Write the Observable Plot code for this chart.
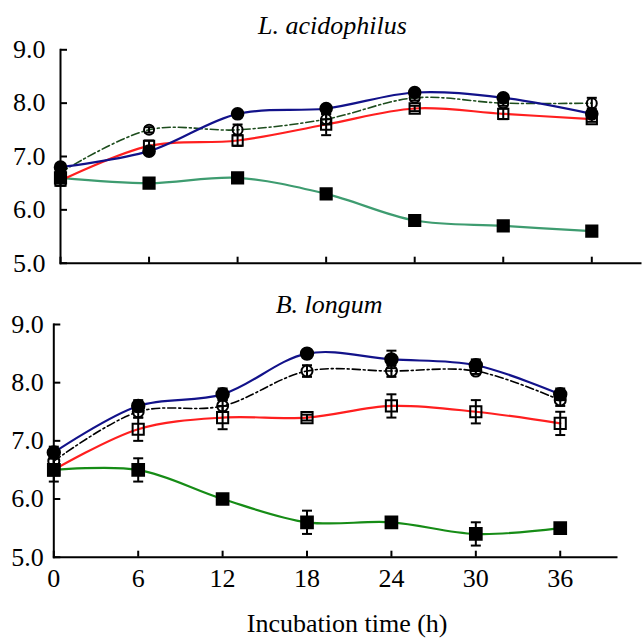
<!DOCTYPE html>
<html><head><meta charset="utf-8">
<script src="https://cdn.jsdelivr.net/npm/d3@7"></script>
<script src="https://cdn.jsdelivr.net/npm/@observablehq/plot@0.6"></script>
<style>
body{margin:0;background:#fff;}
#chart{width:642px;font-family:"Liberation Serif","Times New Roman",serif;}
#chart svg{display:block;}
#chart svg text{font-family:"Liberation Serif","Times New Roman",serif;}
</style></head><body><div id="chart"></div>
<script>
// ---- data ----
const hours = [0, 6, 12, 18, 24, 30, 36];
const yTicks = [5, 6, 7, 8, 9];
const titleTop = "L. acidophilus";
const titleBottom = "B. longum";
const xLabel = "Incubation time (h)";
const FONT = "Liberation Serif, Times New Roman, serif";

// L. acidophilus
const laBlue = [6.8, 7.1, 7.8, 7.9, 8.2, 8.1, 7.8];
const laBlueErr = [0.05, 0.05, 0.05, 0.05, 0.05, 0.05, 0.05];
const laOpen = [6.7, 7.5, 7.5, 7.7, 8.1, 8.0, 8.0];
const laOpenErr = [0.05, 0.05, 0.1, 0.1, 0.05, 0.05, 0.1];
const laRed = [6.55, 7.2, 7.3, 7.6, 7.9, 7.8, 7.7];
const laRedErr = [0.1, 0.1, 0.1, 0.2, 0.05, 0.1, 0.05];
const laGreen = [6.6, 6.5, 6.6, 6.3, 5.8, 5.7, 5.6];
const laGreenErr = [0.05, 0.05, 0.05, 0.05, 0.05, 0.05, 0.05];

// B. longum
const blBlue = [6.8, 7.6, 7.8, 8.5, 8.4, 8.3, 7.8];
const blBlueErr = [0.1, 0.1, 0.1, 0.05, 0.15, 0.1, 0.1];
const blOpen = [6.65, 7.5, 7.6, 8.2, 8.2, 8.2, 7.7];
const blOpenErr = [0.05, 0.1, 0.1, 0.1, 0.1, 0.05, 0.1];
const blRed = [6.5, 7.2, 7.4, 7.4, 7.6, 7.5, 7.3];
const blRedErr = [0.05, 0.2, 0.2, 0.05, 0.2, 0.2, 0.2];
const blGreen = [6.5, 6.5, 6.0, 5.6, 5.6, 5.4, 5.5];
const blGreenErr = [0.2, 0.2, 0.05, 0.2, 0.05, 0.2, 0.05];

// ---- helpers ----
const rows = (vals, errs) => hours.map((h, i) => ({h, v: vals[i], e: errs[i]}));
const cap = {draw(ctx, size) { const r = Math.sqrt(size / Math.PI); ctx.moveTo(-r, 0); ctx.lineTo(r, 0); }};

function seriesMarks(s) {
  return [
    Plot.line(s.data, {x: "h", y: "v", curve: "catmull-rom", stroke: s.color, strokeWidth: s.lw, strokeDasharray: s.dash || null})
  ];
}
function pointMarks(s) {
  const d = s.data;
  return [
    Plot.ruleX(d, {x: "h", y1: r => r.v - r.e, y2: r => r.v + r.e, stroke: "black", strokeWidth: 2}),
    Plot.dot(d, {x: "h", y: r => r.v + r.e, symbol: cap, r: 5, fill: "none", stroke: "black", strokeWidth: 2}),
    Plot.dot(d, {x: "h", y: r => r.v - r.e, symbol: cap, r: 5, fill: "none", stroke: "black", strokeWidth: 2}),
    Plot.dot(d, {x: "h", y: "v", symbol: s.symbol, r: s.r, fill: s.filled ? "black" : "none", stroke: "black", strokeWidth: 2})
  ];
}

function panel({series, title, titleDx, titleDy, height, mt, mb, ml, mr, xMax, yPad, showX}) {
  const marks = [
    Plot.frame({anchor: "left", stroke: "black", strokeWidth: 2}),
    Plot.frame({anchor: "bottom", stroke: "black", strokeWidth: 2}),
    Plot.axisY({ticks: yTicks, tickFormat: d => d.toFixed(1), tickSize: -7, tickPadding: yPad, strokeWidth: 2, fontSize: 26, fontFamily: FONT, label: null}),
    Plot.axisX({ticks: hours, tickSize: -6, tickPadding: 17, strokeWidth: 2, fontSize: 26, fontFamily: FONT, label: null,
      tickFormat: showX ? (d => String(d)) : (() => "")}),
    ...series.flatMap(seriesMarks),
    ...series.flatMap(pointMarks),
    Plot.text([title], {text: d => d, frameAnchor: "top", lineAnchor: "bottom", dx: titleDx, dy: titleDy, fontSize: 26, fontFamily: FONT, fontStyle: "italic", fill: "black"})
  ];
  if (showX) {
    marks.push(Plot.text([xLabel], {text: d => d, frameAnchor: "bottom", lineAnchor: "bottom", dx: 12, dy: 75, fontSize: 26, fontFamily: FONT, fill: "black"}));
  }
  return Plot.plot({
    width: 642, height,
    marginTop: mt, marginBottom: mb, marginLeft: ml, marginRight: mr,
    x: {domain: [0, xMax], label: null},
    y: {domain: [5, 9], label: null},
    style: {fontFamily: FONT, fontSize: "26px", color: "black", background: "white", overflow: "visible"},
    marks
  });
}

const topSeries = [
  {data: rows(laGreen, laGreenErr), color: "#3e9c70", lw: 2.2, symbol: "square", r: 6.3, filled: true},
  {data: rows(laRed, laRedErr), color: "#ff1f1f", lw: 2.2, symbol: "square", r: 5.8, filled: false},
  {data: rows(laOpen, laOpenErr), color: "#1d4d1d", lw: 1.6, dash: "8,3,2,3", symbol: "circle", r: 5, filled: false},
  {data: rows(laBlue, laBlueErr), color: "#12128a", lw: 2.2, symbol: "circle", r: 5.8, filled: true}
];
const bottomSeries = [
  {data: rows(blGreen, blGreenErr), color: "#168c16", lw: 2.2, symbol: "square", r: 6.6, filled: true},
  {data: rows(blRed, blRedErr), color: "#ff1f1f", lw: 2.2, symbol: "square", r: 6.3, filled: false},
  {data: rows(blOpen, blOpenErr), color: "#000000", lw: 1.6, dash: "8,3,2,3", symbol: "circle", r: 5.5, filled: false},
  {data: rows(blBlue, blBlueErr), color: "#12128a", lw: 2.2, symbol: "circle", r: 6.2, filled: true}
];

const root = document.getElementById("chart");
root.append(panel({series: topSeries, title: titleTop, titleDx: -18, titleDy: -16, height: 280,
  mt: 49.3, mb: 17.3, ml: 60, mr: 2, xMax: 39.3, yPad: 22, showX: false}));
root.append(panel({series: bottomSeries, title: titleBottom, titleDx: -6, titleDy: -12, height: 359,
  mt: 44, mb: 82.3, ml: 53.3, mr: 26, xMax: 40, yPad: 17, showX: true}));
</script>
</body></html>
